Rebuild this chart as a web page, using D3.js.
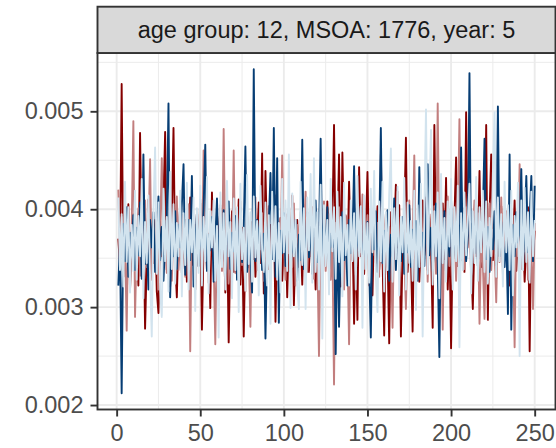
<!DOCTYPE html>
<html>
<head>
<meta charset="utf-8">
<script src="https://cdn.jsdelivr.net/npm/d3@7"></script>
<style>
  body { margin: 0; background: #fff; }
  text { font-family: "Liberation Sans", Arial, sans-serif; }
</style>
</head>
<body>
<script>
const stripLabel = "age group: 12, MSOA: 1776, year: 5";
const xTicks = [0, 50, 100, 150, 200, 250];
const yTicks = [0.002, 0.003, 0.004, 0.005];

// one value per x = 1..250
const darkRed = [
  0.00370, 0.00342, 0.00528, 0.00331, 0.00388, 0.00352, 0.00405, 0.00318, 0.00362, 0.00395,
  0.00341, 0.00376, 0.00322, 0.00478, 0.00356, 0.00398, 0.00278, 0.00347, 0.00410, 0.00333,
  0.00372, 0.00345, 0.00389, 0.00316, 0.00294, 0.00381, 0.00352, 0.00405, 0.00479, 0.00338,
  0.00366, 0.00321, 0.00392, 0.00483, 0.00347, 0.00310, 0.00378, 0.00402, 0.00335, 0.00361,
  0.00389, 0.00326, 0.00357, 0.00412, 0.00343, 0.00371, 0.00318, 0.00395, 0.00352, 0.00406,
  0.00277, 0.00364, 0.00391, 0.00338, 0.00375, 0.00299, 0.00417, 0.00349, 0.00382, 0.00326,
  0.00368, 0.00401, 0.00344, 0.00379, 0.00315, 0.00386, 0.00264, 0.00357, 0.00398, 0.00336,
  0.00372, 0.00349, 0.00410, 0.00323, 0.00381, 0.00270, 0.00364, 0.00393, 0.00341, 0.00378,
  0.00352, 0.00396, 0.00331, 0.00368, 0.00407, 0.00345, 0.00457, 0.00314, 0.00439, 0.00362,
  0.00339, 0.00384, 0.00356, 0.00401, 0.00285, 0.00372, 0.00348, 0.00391, 0.00327, 0.00369,
  0.00395, 0.00310, 0.00378, 0.00352, 0.00414, 0.00302, 0.00367, 0.00389, 0.00341, 0.00376,
  0.00323, 0.00398, 0.00357, 0.00382, 0.00336, 0.00405, 0.00349, 0.00371, 0.00318, 0.00387,
  0.00354, 0.00399, 0.00328, 0.00376, 0.00342, 0.00408, 0.00361, 0.00335, 0.00383, 0.00486,
  0.00347, 0.00372, 0.00456, 0.00321, 0.00458, 0.00364, 0.00393, 0.00339, 0.00428, 0.00356,
  0.00381, 0.00283, 0.00369, 0.00287, 0.00443, 0.00352, 0.00398, 0.00334, 0.00376, 0.00438,
  0.00345, 0.00368, 0.00312, 0.00391, 0.00357, 0.00403, 0.00338, 0.00374, 0.00349, 0.00271,
  0.00386, 0.00355, 0.00263, 0.00397, 0.00342, 0.00379, 0.00425, 0.00361, 0.00404, 0.00270,
  0.00358, 0.00389, 0.00473, 0.00336, 0.00372, 0.00351, 0.00275, 0.00394, 0.00347, 0.00383,
  0.00326, 0.00368, 0.00409, 0.00353, 0.00379, 0.00338, 0.00395, 0.00362, 0.00279, 0.00486,
  0.00354, 0.00387, 0.00331, 0.00372, 0.00406, 0.00349, 0.00432, 0.00318, 0.00375, 0.00258,
  0.00364, 0.00391, 0.00453, 0.00342, 0.00378, 0.00355, 0.00401, 0.00336, 0.00499, 0.00367,
  0.00385, 0.00349, 0.00298, 0.00372, 0.00404, 0.00357, 0.00439, 0.00341, 0.00379, 0.00362,
  0.00486, 0.00287, 0.00395, 0.00456, 0.00348, 0.00374, 0.00329, 0.00388, 0.00357, 0.00403,
  0.00341, 0.00376, 0.00354, 0.00398, 0.00322, 0.00385, 0.00361, 0.00409, 0.00337, 0.00372,
  0.00393, 0.00348, 0.00381, 0.00326, 0.00367, 0.00402, 0.00255, 0.00389, 0.00351, 0.00378
];
const rose = [
  0.00420, 0.00356, 0.00392, 0.00338, 0.00371, 0.00276, 0.00398, 0.00345, 0.00383, 0.00490,
  0.00290, 0.00367, 0.00401, 0.00332, 0.00385, 0.00352, 0.00409, 0.00341, 0.00376, 0.00451,
  0.00328, 0.00382, 0.00359, 0.00397, 0.00318, 0.00374, 0.00452, 0.00346, 0.00388, 0.00335,
  0.00369, 0.00402, 0.00327, 0.00381, 0.00356, 0.00413, 0.00338, 0.00372, 0.00349, 0.00395,
  0.00331, 0.00378, 0.00405, 0.00255, 0.00392, 0.00357, 0.00384, 0.00342, 0.00369, 0.00410,
  0.00336, 0.00460, 0.00351, 0.00387, 0.00325, 0.00373, 0.00398, 0.00347, 0.00262, 0.00382,
  0.00359, 0.00404, 0.00337, 0.00482, 0.00352, 0.00389, 0.00324, 0.00376, 0.00348, 0.00460,
  0.00335, 0.00391, 0.00362, 0.00408, 0.00343, 0.00379, 0.00316, 0.00397, 0.00356, 0.00280,
  0.00387, 0.00349, 0.00412, 0.00338, 0.00374, 0.00359, 0.00396, 0.00327, 0.00382, 0.00351,
  0.00403, 0.00339, 0.00376, 0.00358, 0.00414, 0.00333, 0.00385, 0.00347, 0.00455, 0.00362,
  0.00328, 0.00391, 0.00355, 0.00379, 0.00341, 0.00406, 0.00322, 0.00384, 0.00363, 0.00397,
  0.00345, 0.00371, 0.00418, 0.00336, 0.00388, 0.00352, 0.00402, 0.00329, 0.00376, 0.00357,
  0.00250, 0.00383, 0.00349, 0.00408, 0.00337, 0.00372, 0.00395, 0.00328, 0.00364, 0.00221,
  0.00386, 0.00351, 0.00402, 0.00343, 0.00377, 0.00318, 0.00394, 0.00359, 0.00262, 0.00381,
  0.00348, 0.00407, 0.00333, 0.00372, 0.00389, 0.00356, 0.00415, 0.00339, 0.00367, 0.00394,
  0.00322, 0.00378, 0.00353, 0.00401, 0.00345, 0.00386, 0.00331, 0.00456, 0.00362, 0.00374,
  0.00395, 0.00341, 0.00382, 0.00357, 0.00279, 0.00398, 0.00349, 0.00418, 0.00336, 0.00371,
  0.00387, 0.00352, 0.00298, 0.00376, 0.00409, 0.00343, 0.00368, 0.00455, 0.00331, 0.00385,
  0.00358, 0.00396, 0.00339, 0.00374, 0.00412, 0.00326, 0.00389, 0.00361, 0.00347, 0.00403,
  0.00334, 0.00508, 0.00352, 0.00381, 0.00277, 0.00397, 0.00365, 0.00413, 0.00342, 0.00376,
  0.00356, 0.00391, 0.00327, 0.00384, 0.00492, 0.00348, 0.00371, 0.00339, 0.00402, 0.00361,
  0.00387, 0.00333, 0.00375, 0.00409, 0.00352, 0.00396, 0.00283, 0.00368, 0.00344, 0.00288,
  0.00392, 0.00357, 0.00406, 0.00338, 0.00379, 0.00361, 0.00305, 0.00388, 0.00346, 0.00412,
  0.00334, 0.00371, 0.00398, 0.00353, 0.00382, 0.00327, 0.00366, 0.00259, 0.00394, 0.00352,
  0.00446, 0.00339, 0.00383, 0.00357, 0.00401, 0.00328, 0.00375, 0.00362, 0.00298, 0.00386
];
const darkBlue = [
  0.00322, 0.00368, 0.00212, 0.00385, 0.00347, 0.00402, 0.00331, 0.00376, 0.00359, 0.00394,
  0.00338, 0.00381, 0.00353, 0.00407, 0.00329, 0.00456, 0.00344, 0.00372, 0.00318, 0.00389,
  0.00361, 0.00397, 0.00336, 0.00375, 0.00413, 0.00348, 0.00382, 0.00327, 0.00366, 0.00391,
  0.00508, 0.00310, 0.00377, 0.00352, 0.00398, 0.00339, 0.00384, 0.00361, 0.00405, 0.00446,
  0.00333, 0.00372, 0.00389, 0.00348, 0.00434, 0.00321, 0.00367, 0.00395, 0.00342, 0.00380,
  0.00356, 0.00401, 0.00466, 0.00337, 0.00374, 0.00358, 0.00392, 0.00326, 0.00369, 0.00411,
  0.00345, 0.00383, 0.00352, 0.00399, 0.00334, 0.00371, 0.00408, 0.00339, 0.00376, 0.00357,
  0.00393, 0.00328, 0.00367, 0.00402, 0.00346, 0.00381, 0.00464, 0.00336, 0.00372, 0.00354,
  0.00315, 0.00543, 0.00347, 0.00389, 0.00362, 0.00401, 0.00338, 0.00375, 0.00268, 0.00359,
  0.00386, 0.00437, 0.00349, 0.00483, 0.00331, 0.00452, 0.00284, 0.00378, 0.00355, 0.00396,
  0.00342, 0.00373, 0.00401, 0.00336, 0.00368, 0.00354, 0.00389, 0.00327, 0.00374, 0.00348,
  0.00471, 0.00339, 0.00362, 0.00397, 0.00351, 0.00385, 0.00334, 0.00378, 0.00409, 0.00346,
  0.00371, 0.00472, 0.00343, 0.00388, 0.00356, 0.00402, 0.00337, 0.00375, 0.00361, 0.00394,
  0.00252, 0.00383, 0.00280, 0.00369, 0.00397, 0.00348, 0.00376, 0.00322, 0.00389, 0.00355,
  0.00368, 0.00444, 0.00339, 0.00381, 0.00357, 0.00402, 0.00334, 0.00373, 0.00351, 0.00387,
  0.00342, 0.00269, 0.00384, 0.00359, 0.00398, 0.00336, 0.00372, 0.00483, 0.00345, 0.00378,
  0.00361, 0.00399, 0.00327, 0.00374, 0.00352, 0.00411, 0.00338, 0.00383, 0.00365, 0.00347,
  0.00392, 0.00334, 0.00371, 0.00356, 0.00404, 0.00341, 0.00379, 0.00362, 0.00388, 0.00327,
  0.00443, 0.00358, 0.00376, 0.00342, 0.00395, 0.00446, 0.00353, 0.00381, 0.00337, 0.00372,
  0.00406, 0.00345, 0.00249, 0.00389, 0.00364, 0.00398, 0.00331, 0.00377, 0.00352, 0.00409,
  0.00343, 0.00374, 0.00357, 0.00396, 0.00338, 0.00463, 0.00359, 0.00383, 0.00347, 0.00372,
  0.00539, 0.00331, 0.00386, 0.00355, 0.00401, 0.00342, 0.00378, 0.00363, 0.00394, 0.00472,
  0.00349, 0.00382, 0.00336, 0.00371, 0.00359, 0.00398, 0.00343, 0.00505, 0.00352, 0.00387,
  0.00365, 0.00341, 0.00376, 0.00293, 0.00456, 0.00277, 0.00384, 0.00352, 0.00397, 0.00366,
  0.00378, 0.00441, 0.00339, 0.00382, 0.00434, 0.00356, 0.00391, 0.00434, 0.00347, 0.00424
];
const lightBlue = [
  0.00412, 0.00338, 0.00395, 0.00321, 0.00428, 0.00346, 0.00402, 0.00315, 0.00384, 0.00337,
  0.00419, 0.00328, 0.00393, 0.00352, 0.00431, 0.00309, 0.00387, 0.00345, 0.00414, 0.00331,
  0.00270, 0.00398, 0.00463, 0.00334, 0.00407, 0.00318, 0.00290, 0.00421, 0.00347, 0.00392,
  0.00316, 0.00438, 0.00339, 0.00405, 0.00324, 0.00386, 0.00352, 0.00419, 0.00311, 0.00396,
  0.00343, 0.00427, 0.00318, 0.00389, 0.00356, 0.00412, 0.00296, 0.00401, 0.00335, 0.00424,
  0.00322, 0.00392, 0.00347, 0.00433, 0.00314, 0.00398, 0.00361, 0.00409, 0.00327, 0.00383,
  0.00269, 0.00417, 0.00341, 0.00396, 0.00318, 0.00429, 0.00352, 0.00387, 0.00309, 0.00411,
  0.00338, 0.00402, 0.00295, 0.00426, 0.00349, 0.00381, 0.00317, 0.00435, 0.00344, 0.00397,
  0.00326, 0.00413, 0.00351, 0.00388, 0.00312, 0.00424, 0.00359, 0.00336, 0.00407, 0.00322,
  0.00394, 0.00283, 0.00418, 0.00347, 0.00403, 0.00328, 0.00386, 0.00315, 0.00431, 0.00356,
  0.00409, 0.00337, 0.00456, 0.00299, 0.00416, 0.00352, 0.00389, 0.00321, 0.00298, 0.00428,
  0.00343, 0.00401, 0.00298, 0.00412, 0.00358, 0.00436, 0.00325, 0.00452, 0.00336, 0.00397,
  0.00318, 0.00425, 0.00268, 0.00404, 0.00342, 0.00389, 0.00313, 0.00431, 0.00357, 0.00402,
  0.00329, 0.00418, 0.00346, 0.00392, 0.00311, 0.00427, 0.00353, 0.00384, 0.00322, 0.00409,
  0.00347, 0.00396, 0.00318, 0.00434, 0.00352, 0.00403, 0.00279, 0.00414, 0.00339, 0.00386,
  0.00325, 0.00421, 0.00356, 0.00439, 0.00331, 0.00295, 0.00408, 0.00347, 0.00428, 0.00316,
  0.00397, 0.00338, 0.00415, 0.00462, 0.00326, 0.00401, 0.00349, 0.00423, 0.00312, 0.00392,
  0.00356, 0.00432, 0.00318, 0.00407, 0.00345, 0.00388, 0.00327, 0.00419, 0.00297, 0.00404,
  0.00341, 0.00426, 0.00270, 0.00395, 0.00502, 0.00334, 0.00411, 0.00481, 0.00323, 0.00398,
  0.00352, 0.00417, 0.00309, 0.00436, 0.00345, 0.00391, 0.00326, 0.00408, 0.00362, 0.00431,
  0.00318, 0.00402, 0.00347, 0.00424, 0.00259, 0.00396, 0.00338, 0.00417, 0.00353, 0.00389,
  0.00426, 0.00314, 0.00398, 0.00345, 0.00433, 0.00327, 0.00402, 0.00356, 0.00419, 0.00336,
  0.00408, 0.00324, 0.00391, 0.00352, 0.00437, 0.00499, 0.00331, 0.00412, 0.00347, 0.00395,
  0.00321, 0.00428, 0.00356, 0.00404, 0.00338, 0.00419, 0.00312, 0.00393, 0.00361, 0.00427,
  0.00250, 0.00409, 0.00338, 0.00422, 0.00346, 0.00397, 0.00325, 0.00418, 0.00352, 0.00389
];

const series = [
  { values: darkRed, color: "#850000" },
  { values: rose, color: "#C27E7E" },
  { values: darkBlue, color: "#063D74" },
  { values: lightBlue, color: "#D2E3EE" }
];

const W = 556, H = 448;
const panel = { left: 97.5, right: 555.5, top: 53, bottom: 409.5 };
const strip = { top: 6.7, bottom: 53 };

const svg = d3.select("body").append("svg")
  .attr("width", W)
  .attr("height", H);

// ggplot-like 5% expansion
const xs = d3.range(1, 251);
const xExt = d3.extent(xs);
const xPad = (xExt[1] - xExt[0]) * 0.05;
const allY = series.flatMap(s => s.values);
const yExt = d3.extent(allY);
const yPad = (yExt[1] - yExt[0]) * 0.05;

const x = d3.scaleLinear()
  .domain([xExt[0] - xPad, xExt[1] + xPad])
  .range([panel.left, panel.right]);
const y = d3.scaleLinear()
  .domain([yExt[0] - yPad, yExt[1] + yPad])
  .range([panel.bottom, panel.top]);

svg.append("rect")
  .attr("x", panel.left).attr("y", panel.top)
  .attr("width", panel.right - panel.left)
  .attr("height", panel.bottom - panel.top)
  .attr("fill", "#fff");

// grid lines
const xMinor = [25, 75, 125, 175, 225];
const yMinor = [0.0025, 0.0035, 0.0045, 0.0055];
const grid = svg.append("g");
grid.selectAll(".xmin").data(xMinor).enter().append("line")
  .attr("x1", d => x(d)).attr("x2", d => x(d))
  .attr("y1", panel.top).attr("y2", panel.bottom)
  .attr("stroke", "#EBEBEB").attr("stroke-width", 1);
grid.selectAll(".ymin").data(yMinor.filter(d => d < y.domain()[1])).enter().append("line")
  .attr("x1", panel.left).attr("x2", panel.right)
  .attr("y1", d => y(d)).attr("y2", d => y(d))
  .attr("stroke", "#EBEBEB").attr("stroke-width", 1);
grid.selectAll(".xmaj").data(xTicks).enter().append("line")
  .attr("x1", d => x(d)).attr("x2", d => x(d))
  .attr("y1", panel.top).attr("y2", panel.bottom)
  .attr("stroke", "#EBEBEB").attr("stroke-width", 1.9);
grid.selectAll(".ymaj").data(yTicks).enter().append("line")
  .attr("x1", panel.left).attr("x2", panel.right)
  .attr("y1", d => y(d)).attr("y2", d => y(d))
  .attr("stroke", "#EBEBEB").attr("stroke-width", 1.9);

// series lines
const line = d3.line()
  .x((d, i) => x(xs[i]))
  .y(d => y(d));

svg.append("g").selectAll("path")
  .data(series)
  .enter()
  .append("path")
  .attr("d", d => line(d.values))
  .attr("fill", "none")
  .attr("stroke", d => d.color)
  .attr("stroke-width", 1.9)
  .attr("stroke-linejoin", "round");

// panel border
svg.append("rect")
  .attr("x", panel.left).attr("y", panel.top)
  .attr("width", panel.right - panel.left)
  .attr("height", panel.bottom - panel.top)
  .attr("fill", "none")
  .attr("stroke", "#333333")
  .attr("stroke-width", 1.9);

// strip
svg.append("rect")
  .attr("x", panel.left).attr("y", strip.top)
  .attr("width", panel.right - panel.left)
  .attr("height", strip.bottom - strip.top)
  .attr("fill", "#D9D9D9")
  .attr("stroke", "#333333")
  .attr("stroke-width", 1.9);

svg.append("text")
  .attr("x", (panel.left + panel.right) / 2)
  .attr("y", (strip.top + strip.bottom) / 2 + 8.4)
  .attr("text-anchor", "middle")
  .attr("fill", "#1A1A1A")
  .style("font-size", "23.5px")
  .text(stripLabel);

// axes
const xAxis = svg.append("g")
  .attr("transform", `translate(0, ${panel.bottom})`)
  .call(d3.axisBottom(x).tickValues(xTicks).tickSize(7).tickPadding(8));
const yAxis = svg.append("g")
  .attr("transform", `translate(${panel.left}, 0)`)
  .call(d3.axisLeft(y).tickValues(yTicks).tickSize(7).tickPadding(7).tickFormat(d3.format(".3f")));

[xAxis, yAxis].forEach(g => {
  g.select(".domain").remove();
  g.selectAll(".tick line").attr("stroke", "#333333").attr("stroke-width", 1.9);
  g.selectAll(".tick text")
    .attr("fill", "#4D4D4D")
    .style("font-size", "23.5px")
    .style("font-family", "'Liberation Sans', Arial, sans-serif");
});
</script>
</body>
</html>
